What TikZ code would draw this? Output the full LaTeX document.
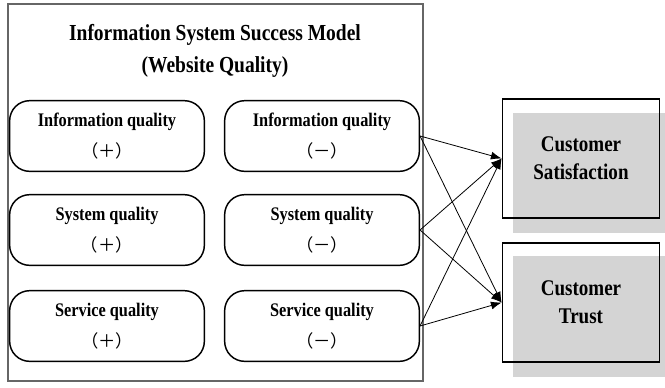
\documentclass[tikz,border=0pt]{standalone}
\usepackage{fontspec}
\setmainfont[FakeStretch=0.85]{Liberation Serif}
\newfontfamily\cjk{Noto Sans CJK SC}
\newcommand{\signtext}[1]{{\cjk\mdseries\fontsize{13}{13}\selectfont（#1）}}
\usetikzlibrary{arrows.meta}

\begin{document}
\begin{tikzpicture}[x=0.75pt,y=-0.75pt,
    qbox/.style={draw, line width=1.1pt, rounded corners=15pt, minimum width=146pt, minimum height=53pt, align=center, font=\fontsize{14.4}{23}\selectfont\bfseries},
    cbox/.style={draw, line width=1.1pt, minimum width=118pt, minimum height=89pt, align=center, font=\fontsize{16.8}{21}\selectfont\bfseries},
    link/.style={-{Latex[length=8pt,width=6pt]}, line width=0.6pt}]
    \useasboundingbox (0,0) rectangle (665,387);
    \draw[black!60, line width=0.8pt] (8,4) rectangle (423,381);
    \node[align=center, font=\fontsize{17.2}{24}\selectfont\bfseries] (title) at (215,51) {Information System Success Model\\(Website Quality)};
    \node[qbox] (iqp) at (107,136) {Information quality\\\signtext{＋}};
    \node[qbox] (iqm) at (322,136) {Information quality\\\signtext{－}};
    \node[qbox] (sqp) at (107,230) {System quality\\\signtext{＋}};
    \node[qbox] (sqm) at (322,230) {System quality\\\signtext{－}};
    \node[qbox] (vqp) at (107,326) {Service quality\\\signtext{＋}};
    \node[qbox] (vqm) at (322,326) {Service quality\\\signtext{－}};
    \fill[black!17] (513,113) rectangle (665,233);
    \fill[black!17] (513,256) rectangle (665,377);
    \node[cbox] (sat) at (581,158.5) {Customer\\Satisfaction};
    \node[cbox] (trust) at (581,302.5) {Customer\\Trust};
    \foreach \src in {iqm,sqm,vqm}{
        \draw[link] (\src.east) -- (sat.west);
        \draw[link] (\src.east) -- (trust.west);
    }
\end{tikzpicture}
\end{document}
